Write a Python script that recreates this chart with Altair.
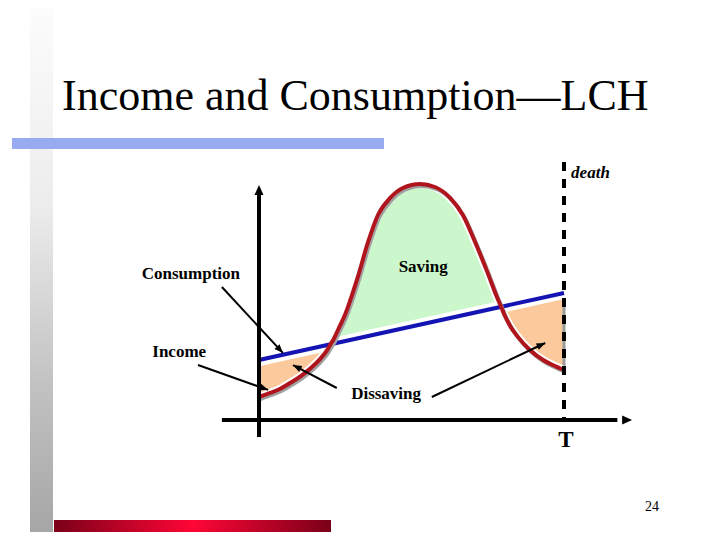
import math
import altair as alt
import pandas as pd

# ---------------- data ----------------
# life-cycle income path: age since start of working life vs. income level
ages = [0, 2.2, 4.1, 6.1, 8.3, 10.2, 12.0, 13.4, 14.05, 14.6, 15.9, 16.9, 17.9,
        19.5, 21.4, 23.4, 25.8, 28.3, 31.7, 34.6, 37.6, 40.1, 42.5, 44.9,
        46.8, 47.62, 48.2, 49.4, 50.8, 53.3, 55.9, 57.8, 60]
income = [9.7, 11.4, 13.1, 15.6, 18.6, 21.9, 25.7, 29.5, 31.9, 33.8, 39.7, 44.3, 50.2,
          60.8, 74.7, 86.5, 93.7, 97.9, 99.6, 98.3, 93.7, 86.5, 75.1, 62.5,
          51.9, 47.8, 44.7, 39.7, 35.4, 29.5, 25.3, 23.2, 21.1]

# consumption: straight line from start of life to death (T)
cons_ages = [0, 60]
consumption = [25.3, 53.6]
T_AGE = 60

# region labels
label_text = ["Consumption", "Income", "Saving", "Dissaving"]
label_age = [-13.4, -15.7, 32.3, 25.0]
label_val = [59.5, 26.6, 62.4, 8.9]

# annotation arrows (from label towards the curve)
arrow_from_age = [-7.3, -12.0, 15.3, 34.0]
arrow_from_val = [56.1, 23.2, 13.5, 9.7]
arrow_to_age = [4.7, 1.8, 6.7, 56.3]
arrow_to_val = [28.3, 12.7, 23.2, 32.5]

title_text = "Income and Consumption\u2014LCH"
page_number = "24"

# ---------------- scales ----------------
X_RANGE = [251, 556]
Y_RANGE = [412, 175]
X_DOM = [0, 60]
Y_DOM = [0, 100]
xs = alt.Scale(domain=X_DOM, range=X_RANGE, nice=False, zero=False)
ys = alt.Scale(domain=Y_DOM, range=Y_RANGE, nice=False, zero=False)


def X(f):
    return alt.X(f, type="quantitative", scale=xs, axis=None)


def Y(f):
    return alt.Y(f, type="quantitative", scale=ys, axis=None)


kx = (X_RANGE[1] - X_RANGE[0]) / (X_DOM[1] - X_DOM[0])
ky = (Y_RANGE[0] - Y_RANGE[1]) / (Y_DOM[1] - Y_DOM[0])

# ---------------- frames ----------------
c0, c1 = consumption
df = pd.DataFrame({"age": ages, "income": income})
df["cons"] = c0 + (c1 - c0) * (df["age"] - cons_ages[0]) / (cons_ages[1] - cons_ages[0])
df["lo"] = df[["income", "cons"]].min(axis=1)

cons_df = pd.DataFrame({"age": cons_ages, "cons": consumption})

arr = pd.DataFrame({"fa": arrow_from_age, "fv": arrow_from_val,
                    "ta": arrow_to_age, "tv": arrow_to_val})
arr["ang"] = [
    math.degrees(math.atan2((ta - fa) * kx, (tv - fv) * ky)) % 360
    for fa, fv, ta, tv in zip(arrow_from_age, arrow_from_val, arrow_to_age, arrow_to_val)
]

lab = pd.DataFrame({"t": label_text, "age": label_age, "val": label_val})
one = pd.DataFrame({"k": [0]})

RED = "#B0141C"
BLUE = "#1414B4"
GREEN = "#CCF7CC"
ORANGE = "#FBC99B"
SERIF = "Liberation Serif"
INTERP = "monotone"

# ---------------- slide decoration ----------------
gray_bar = alt.Chart(one).mark_rect(
    color=alt.LinearGradient(
        gradient="linear",
        stops=[alt.GradientStop(color="#FCFCFC", offset=0),
               alt.GradientStop(color="#ECECEC", offset=0.38),
               alt.GradientStop(color="#C2C2C2", offset=0.72),
               alt.GradientStop(color="#A6A6A6", offset=1)],
        x1=0, x2=0, y1=0, y2=1)
).encode(x=alt.value(22), x2=alt.value(45), y=alt.value(0), y2=alt.value(524))

red_bar = alt.Chart(one).mark_rect(
    color=alt.LinearGradient(
        gradient="linear",
        stops=[alt.GradientStop(color="#7A0018", offset=0),
               alt.GradientStop(color="#FF0636", offset=0.5),
               alt.GradientStop(color="#7A0018", offset=1)],
        x1=0, x2=1, y1=0, y2=0)
).encode(x=alt.value(46), x2=alt.value(323), y=alt.value(512), y2=alt.value(524))

blue_bar = alt.Chart(one).mark_rect(color="#98ABF0").encode(
    x=alt.value(4), x2=alt.value(376), y=alt.value(130), y2=alt.value(141))

title = alt.Chart(pd.DataFrame({"t": [title_text]})).mark_text(
    font=SERIF, fontSize=44, color="black", align="left", baseline="alphabetic"
).encode(x=alt.value(54), y=alt.value(102), text="t:N")

page_num = alt.Chart(pd.DataFrame({"t": [page_number]})).mark_text(
    font=SERIF, fontSize=14, color="black", align="center", baseline="alphabetic"
).encode(x=alt.value(644), y=alt.value(503), text="t:N")

# ---------------- chart body ----------------
green = alt.Chart(df).mark_area(color=GREEN, interpolate=INTERP).encode(
    x=X("age"), y=Y("income"), y2="lo:Q")
orange = alt.Chart(df).mark_area(color=ORANGE, interpolate=INTERP).encode(
    x=X("age"), y=Y("cons"), y2="lo:Q")

end_df = pd.DataFrame({"age": [T_AGE], "a": [income[-1]], "b": [consumption[-1] - 2.5]})
orange_edge = alt.Chart(end_df).mark_rule(color="#9A9A9A", strokeWidth=3).encode(
    x=X("age"), y=Y("a"), y2="b:Q")

cons_halo = alt.Chart(cons_df).mark_line(color="white", strokeWidth=12, strokeCap="butt").encode(
    x=X("age"), y=Y("cons"))
inc_halo = alt.Chart(df).mark_line(color="white", strokeWidth=8, interpolate=INTERP).encode(
    x=X("age"), y=Y("income"))
cons_line = alt.Chart(cons_df).mark_line(color=BLUE, strokeWidth=4, strokeCap="butt").encode(
    x=X("age"), y=Y("cons"))
inc_shadow = alt.Chart(df).mark_line(color="#A0A0A0", strokeWidth=4, interpolate=INTERP,
                                     xOffset=1.5, yOffset=2).encode(
    x=X("age"), y=Y("income"))
inc_line = alt.Chart(df).mark_line(color=RED, strokeWidth=4, interpolate=INTERP).encode(
    x=X("age"), y=Y("income"))

# axes drawn as arrows
vaxis_df = pd.DataFrame({"x": [0], "y": [-7.2], "y2": [96.0]})
haxis_df = pd.DataFrame({"y": [0], "x": [-7.3], "x2": [70.5]})
vaxis = alt.Chart(vaxis_df).mark_rule(color="black", strokeWidth=4).encode(
    x=X("x"), y=Y("y"), y2="y2:Q")
haxis = alt.Chart(haxis_df).mark_rule(color="black", strokeWidth=4).encode(
    y=Y("y"), x=X("x"), x2="x2:Q")
ahead_df = pd.DataFrame({"x": [0, 73.4], "y": [99.2, 0], "ang": [0, 90]})
AXIS_HEAD = "M0,0L-0.45,1L0.45,1Z"
axis_heads = alt.Chart(ahead_df).mark_point(
    shape=AXIS_HEAD, filled=True, color="black", opacity=1, size=400, strokeWidth=0
).encode(x=X("x"), y=Y("y"), angle=alt.Angle("ang:Q", scale=None))

death_df = pd.DataFrame({"x": [T_AGE], "y": [108.9], "y2": [0]})
death_line = alt.Chart(death_df).mark_rule(color="black", strokeWidth=4, strokeDash=[9, 8]).encode(
    x=X("x"), y=Y("y"), y2="y2:Q")

# annotation arrows
arrow_lines = alt.Chart(arr).mark_rule(color="black", strokeWidth=2).encode(
    x=X("fa"), y=Y("fv"), x2="ta:Q", y2="tv:Q")
ARROW_HEAD = "M0,0L-0.4,1L0.4,1Z"
arrow_heads = alt.Chart(arr).mark_point(
    shape=ARROW_HEAD, filled=True, color="black", opacity=1, size=300, strokeWidth=0
).encode(x=X("ta"), y=Y("tv"), angle=alt.Angle("ang:Q", scale=None))

labels = alt.Chart(lab).mark_text(
    font=SERIF, fontSize=17, fontWeight="bold", color="black", align="center", baseline="alphabetic"
).encode(x=X("age"), y=Y("val"), text="t:N")

death_lab = alt.Chart(pd.DataFrame({"t": ["death"], "age": [61.4], "val": [102.1]})).mark_text(
    font=SERIF, fontSize=17, fontWeight="bold", fontStyle="italic", color="black",
    align="left", baseline="alphabetic"
).encode(x=X("age"), y=Y("val"), text="t:N")

t_lab = alt.Chart(pd.DataFrame({"t": ["T"], "age": [60.4], "val": [-11.4]})).mark_text(
    font=SERIF, fontSize=23, fontWeight="bold", color="black", align="center", baseline="alphabetic"
).encode(x=X("age"), y=Y("val"), text="t:N")

chart = alt.layer(
    gray_bar, red_bar, blue_bar, title, page_num,
    green, orange, orange_edge, cons_halo, inc_halo, cons_line, inc_shadow, inc_line,
    vaxis, haxis, axis_heads, death_line, arrow_lines, arrow_heads,
    labels, death_lab, t_lab
).properties(
    width=704, height=524, padding=0,
    autosize=alt.AutoSizeParams(type="none")
).configure_view(strokeWidth=0)

chart.save("out.html", embed_options={"renderer": "svg", "actions": False})
